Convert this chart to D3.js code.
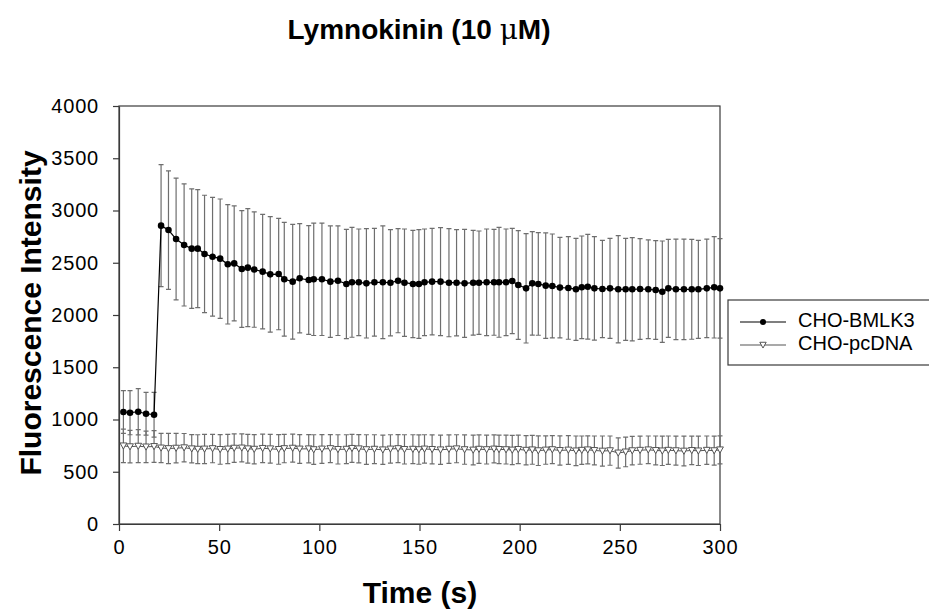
<!DOCTYPE html>
<html>
<head>
<meta charset="utf-8">
<script src="https://cdn.jsdelivr.net/npm/d3@7"></script>
<style>
  body { margin: 0; background: #fff; }
  svg { display: block; font-family: "Liberation Sans", Arial, sans-serif; }
</style>
</head>
<body>
<div id="chart"></div>
<script>
// sample times (s), shared by both series
const times = [
  2.2, 5.5, 9.6, 13.5, 17.5,
  21.0, 24.7, 28.5, 32.5, 36.3, 39.3, 42.7, 46.7, 50.5, 54.3, 57.5, 61.3, 64.3, 67.5, 71.7, 75.5, 79.7, 82.5, 86.7, 90.2,
  94.7, 97.2, 101.3, 105.5, 109.3, 113.5, 116.3, 119.7, 123.5, 127.5, 131.7, 135.5, 139.3, 142.5, 146.7, 149.7, 152.5,
  156.3, 160.5, 164.7, 168.5, 172.5, 176.8, 179.7, 183.5, 187.2, 189.7,
  193.2, 196.3, 199.3, 203.2, 206.3, 209.3, 213.0, 216.3, 220.1, 224.3, 228.1, 231.0, 234.0, 237.3, 241.3, 245.1,
  249.2, 252.9, 256.2, 260.1, 264.2, 267.9, 271.2, 274.2, 278.0, 282.0, 285.9, 289.2, 293.4, 297.1, 300.0
];

const bmlk3 = [
  1072, 1065, 1074, 1055, 1046,
  2855, 2813, 2727, 2670, 2635, 2635, 2584, 2558, 2539, 2485, 2494, 2440, 2453, 2435, 2415, 2389, 2392, 2342, 2319, 2351,
  2335, 2342, 2342, 2319, 2328, 2297, 2313, 2313, 2303, 2313, 2313, 2309, 2328, 2309, 2297, 2297, 2313,
  2319, 2319, 2309, 2309, 2303, 2309, 2309, 2313, 2313, 2313,
  2313, 2325, 2287, 2255, 2303, 2297, 2281, 2278, 2262, 2259, 2246, 2265, 2271, 2255, 2249, 2255,
  2246, 2246, 2246, 2249, 2246, 2239, 2223, 2255, 2246, 2246, 2246, 2246, 2255, 2265, 2255
];
const bmlk3Err = [
  204, 211, 221, 205, 214,
  584, 567, 583, 584, 571, 565, 562, 568, 571, 571, 551, 558, 565, 552, 548, 552, 533, 545, 549, 523,
  520, 538, 538, 533, 524, 523, 526, 510, 523, 516, 539, 508, 498, 514, 513, 520, 510,
  510, 517, 517, 508, 517, 501, 495, 510, 507, 526,
  510, 504, 520, 523, 495, 491, 504, 497, 481, 491, 488, 491, 501, 495, 466, 479,
  513, 488, 494, 482, 472, 472, 485, 469, 481, 481, 478, 469, 472, 485, 476
];

const pcdna = [
  748, 740, 745, 738, 742,
  728, 722, 726, 730, 720, 716, 718, 722, 714, 718, 726, 728, 720, 716, 724, 720, 714, 722, 726, 718,
  720, 712, 718, 722, 714, 716, 724, 720, 712, 716, 710, 718, 722, 714, 716, 712, 718,
  714, 710, 716, 720, 712, 708, 716, 712, 718, 714,
  712, 708, 714, 706, 710, 702, 708, 712, 704, 708, 700, 706, 710, 704, 698, 702,
  680, 690, 702, 706, 710, 704, 700, 706, 702, 698, 704, 700, 706, 702, 710
];
const pcdnaErr = [
  160, 155, 158, 150, 152,
  140, 145, 142, 136, 135, 138, 140, 136, 142, 140, 136, 134, 138, 140, 136, 138, 142, 136, 134, 138,
  136, 142, 138, 134, 140, 138, 134, 136, 142, 138, 140, 136, 134, 140, 138, 140, 136,
  138, 140, 136, 134, 140, 142, 136, 138, 134, 136,
  138, 140, 136, 140, 138, 142, 136, 134, 140, 138, 142, 136, 134, 138, 144, 140,
  145, 142, 136, 134, 132, 138, 140, 136, 138, 142, 136, 140, 136, 138, 134
];

const xTicks = [0, 50, 100, 150, 200, 250, 300];
const yTicks = [0, 500, 1000, 1500, 2000, 2500, 3000, 3500, 4000];

const width = 929, height = 610;
const svg = d3.select("#chart").append("svg")
  .attr("width", width)
  .attr("height", height);

const x = d3.scaleLinear().domain([0, 300]).range([119, 720]);
const y = d3.scaleLinear().domain([0, 4000]).range([524, 106]);

const axisColor = "#3a3a3a";
const barColor = "#6e6e6e";

// frame
svg.append("rect")
  .attr("x", x(0)).attr("y", y(4000))
  .attr("width", x(300) - x(0)).attr("height", y(0) - y(4000))
  .attr("fill", "none").attr("stroke", axisColor).attr("stroke-width", 1.2);

const gx = svg.append("g")
  .attr("transform", `translate(0,${y(0)})`)
  .call(d3.axisBottom(x).tickValues(xTicks).tickFormat(d3.format("d"))
    .tickSize(7).tickSizeOuter(0).tickPadding(9));
const gy = svg.append("g")
  .attr("transform", `translate(${x(0)},0)`)
  .call(d3.axisLeft(y).tickValues(yTicks).tickFormat(d3.format("d"))
    .tickSize(6).tickSizeOuter(0).tickPadding(14));

[gx, gy].forEach(g => {
  g.select(".domain").attr("stroke", axisColor).attr("stroke-width", 1.2);
  g.selectAll(".tick line").attr("stroke", axisColor).attr("stroke-width", 1.2);
  g.selectAll(".tick text")
    .attr("fill", "#000")
    .style("font-family", "'Liberation Sans', Arial, sans-serif")
    .style("font-size", "20px")
    .style("letter-spacing", "0.8px");
});

const series = [
  {name: "CHO-pcDNA", mean: pcdna, err: pcdnaErr, marker: "tri"},
  {name: "CHO-BMLK3", mean: bmlk3, err: bmlk3Err, marker: "dot"}
];
series.forEach(s => {
  s.points = times.map((t, i) => ({t, v: s.mean[i], e: s.err[i]}));
});

// error bars
const cap = 2.5;
series.forEach(s => {
  const g = svg.append("g").attr("stroke", barColor).attr("stroke-width", 1.2).attr("fill", "none");
  g.selectAll("path")
    .data(s.points)
    .join("path")
    .attr("d", d => {
      const cx = x(d.t), y0 = y(d.v - d.e), y1 = y(d.v + d.e);
      return `M${cx},${y0}V${y1}M${cx - cap},${y1}H${cx + cap}M${cx - cap},${y0}H${cx + cap}`;
    });
});

// lines
const line = d3.line().x(d => x(d.t)).y(d => y(d.v));
svg.append("path").datum(series[0].points)
  .attr("d", line).attr("fill", "none").attr("stroke", "#555").attr("stroke-width", 1);
svg.append("path").datum(series[1].points)
  .attr("d", line).attr("fill", "none").attr("stroke", "#000").attr("stroke-width", 1.2);

// markers
const triPath = (cx, cy, r) => `M${cx - r},${cy - r * 0.85}H${cx + r}L${cx},${cy + r * 0.95}Z`;
svg.append("g").selectAll("path")
  .data(series[0].points)
  .join("path")
  .attr("d", d => triPath(x(d.t), y(d.v), 3.4))
  .attr("fill", "#fff").attr("stroke", "#555").attr("stroke-width", 1);
svg.append("g").selectAll("circle")
  .data(series[1].points)
  .join("circle")
  .attr("cx", d => x(d.t)).attr("cy", d => y(d.v)).attr("r", 3.3)
  .attr("fill", "#000");

// title
const title = svg.append("text")
  .attr("x", 419).attr("y", 39)
  .attr("text-anchor", "middle")
  .style("font-size", "28px").style("font-weight", "bold");
title.append("tspan").text("Lymnokinin (10 ");
title.append("tspan").style("font-weight", "normal").style("font-family", "'DejaVu Serif', serif").text("μ");
title.append("tspan").text("M)");

// axis titles
svg.append("text")
  .attr("x", 420).attr("y", 603)
  .attr("text-anchor", "middle")
  .style("font-size", "30px").style("font-weight", "bold")
  .text("Time (s)");
svg.append("text")
  .attr("transform", `translate(41,${y(2000) - 2}) rotate(-90)`)
  .attr("text-anchor", "middle")
  .style("font-size", "30px").style("font-weight", "bold")
  .text("Fluorescence Intensity");

// legend
const lg = svg.append("g");
lg.append("rect")
  .attr("x", 728).attr("y", 300).attr("width", 215).attr("height", 65)
  .attr("fill", "#fff").attr("stroke", axisColor).attr("stroke-width", 1.2);
const legendRows = [
  {name: "CHO-BMLK3", marker: "dot", yy: 322},
  {name: "CHO-pcDNA", marker: "tri", yy: 345}
];
legendRows.forEach(r => {
  lg.append("line")
    .attr("x1", 740).attr("x2", 786).attr("y1", r.yy).attr("y2", r.yy)
    .attr("stroke", r.marker === "dot" ? "#000" : "#555").attr("stroke-width", 1.2);
  if (r.marker === "dot") {
    lg.append("circle").attr("cx", 763).attr("cy", r.yy).attr("r", 3).attr("fill", "#000");
  } else {
    lg.append("path").attr("d", triPath(763, r.yy, 3.2))
      .attr("fill", "#fff").attr("stroke", "#555").attr("stroke-width", 1);
  }
  lg.append("text")
    .attr("x", 798).attr("y", r.yy + 5)
    .style("font-size", "20px")
    .text(r.name);
});
</script>
</body>
</html>
